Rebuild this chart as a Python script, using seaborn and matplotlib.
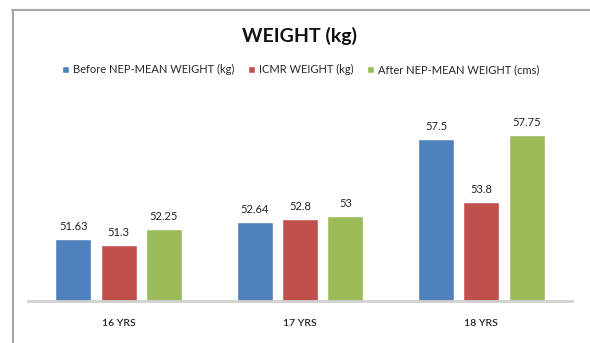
import pandas as pd
import seaborn as sns
import matplotlib.pyplot as plt
from matplotlib.lines import Line2D
from matplotlib.patches import Patch

ages = ['16 YRS', '17 YRS', '18 YRS']
series = ['Before NEP-MEAN WEIGHT (kg)', 'ICMR WEIGHT (kg)', 'After NEP-MEAN WEIGHT (cms)']
before_nep = [51.63, 52.64, 57.5]
icmr = [51.3, 52.8, 53.8]
after_nep = [52.25, 53, 57.75]
value_labels = [['51.63', '52.64', '57.5'], ['51.3', '52.8', '53.8'], ['52.25', '53', '57.75']]
colors = ['#4F81BD', '#C0504D', '#9BBB59']

df = pd.DataFrame({
    'age': ages * 3,
    'series': [s for s in series for _ in ages],
    'weight': before_nep + icmr + after_nep,
})

sns.set_style('white')
plt.rcParams['font.family'] = ['Lato', 'DejaVu Sans']

fig = plt.figure(figsize=(5.9, 3.43), dpi=100)
ax = fig.add_axes([0.0475, 0.1224, 0.922, 0.547])
sns.barplot(data=df, x='age', y='weight', hue='series', palette=colors,
            saturation=1, width=0.75, gap=0.2, ax=ax, legend=False)

for container, labels in zip(ax.containers, value_labels):
    ax.bar_label(container, labels=labels, padding=5, fontsize=8, color='#222222')

ax.set_ylim(48, 59)
ax.set_xlim(-0.5, 2.5)
ax.set_yticks([])
ax.set_xlabel('')
ax.set_ylabel('')
for side in ['top', 'right', 'left']:
    ax.spines[side].set_visible(False)
ax.spines['bottom'].set_color('#d0d0d0')
ax.spines['bottom'].set_linewidth(2)
ax.tick_params(axis='x', length=0, pad=13, labelsize=7.5, labelcolor='#222222')
for lbl in ax.get_xticklabels():
    lbl.set_fontweight('semibold')

# title and legend
fig.text(0.508, 0.895, 'WEIGHT (kg)', ha='center', va='center',
         fontsize=14, fontweight='bold', color='#111111')
handles = [Patch(facecolor=c, label=s) for c, s in zip(colors, series)]
fig.legend(handles=handles, ncol=3, loc='center', bbox_to_anchor=(0.51, 0.796),
           frameon=False, fontsize=8, handlelength=0.6, handleheight=0.6,
           handletextpad=0.4, columnspacing=1.2)

# chart frame
fig.add_artist(Line2D([12 / 590, 1], [1 - 9.5 / 343] * 2, transform=fig.transFigure,
                      color='#a6a6a6', lw=1.5))
fig.add_artist(Line2D([13.3 / 590] * 2, [1 - 9.5 / 343, 0], transform=fig.transFigure,
                      color='#a6a6a6', lw=1.5))

fig.savefig('out.png', dpi=100)
